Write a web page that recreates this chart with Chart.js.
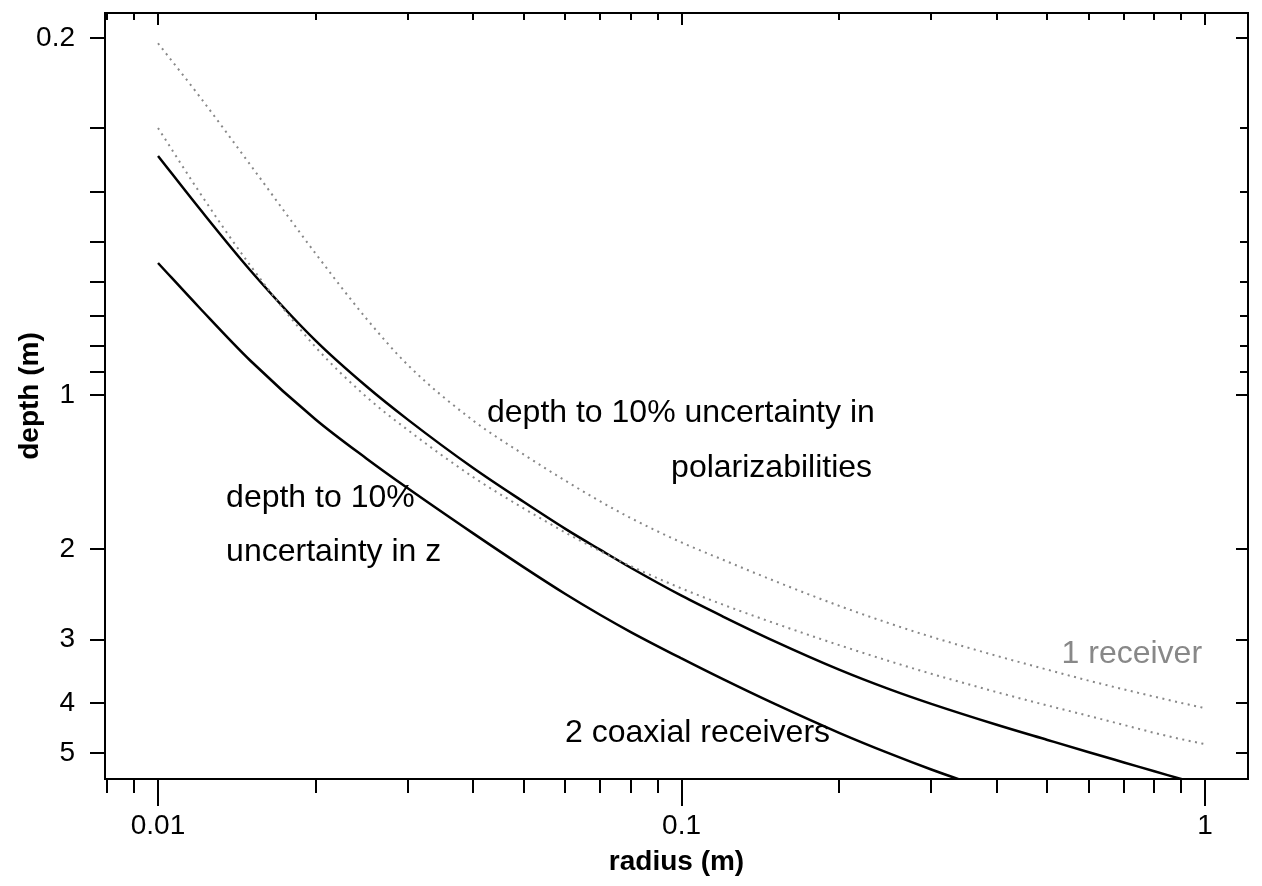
<!DOCTYPE html>
<html>
<head>
<meta charset="utf-8">
<script src="https://cdn.jsdelivr.net/npm/chart.js@4.4.1/dist/chart.umd.min.js"></script>
<style>
  html, body { margin: 0; padding: 0; background: #fff; }
  #wrap { width: 1262px; height: 886px; }
</style>
</head>
<body>
<div id="wrap"><canvas id="depthChart" width="1262" height="886"></canvas></div>
<script>
const radius = [0.01, 0.012, 0.015, 0.02, 0.025, 0.03, 0.04, 0.05, 0.06, 0.07, 0.08, 0.1,
                0.12, 0.15, 0.2, 0.25, 0.3, 0.4, 0.5, 0.6, 0.7, 0.8, 0.9, 1.0];

// depth (m), 1 receiver (dotted grey)
const oneRxUpper = [0.2048, 0.2601, 0.3538, 0.5279, 0.7072, 0.8716, 1.1196, 1.3048, 1.4676, 1.6112, 1.7366, 1.9377,
                    2.0951, 2.3012, 2.5776, 2.7914, 2.9636, 3.2284, 3.4361, 3.6107, 3.7543, 3.8797, 3.9895, 4.0858];
const oneRxLower = [0.2999, 0.4006, 0.5566, 0.8042, 1.0059, 1.1681, 1.4440, 1.6634, 1.8537, 2.0156, 2.1556, 2.3836,
                    2.5637, 2.7839, 3.0761, 3.3086, 3.5000, 3.8009, 4.0365, 4.2317, 4.4066, 4.5659, 4.6971, 4.8040];

// depth (m), 2 coaxial receivers (solid black)
const twoRxUpper = [0.3402, 0.4311, 0.5689, 0.7812, 0.9594, 1.1147, 1.3861, 1.6155, 1.8228, 2.0040, 2.1718, 2.4628,
                    2.7045, 3.0171, 3.4345, 3.7543, 4.0074, 4.4026, 4.7140, 4.9827, 5.2166, 5.4272, 5.6211, 5.7993];
const twoRxLower = [0.5507, 0.6737, 0.8543, 1.1137, 1.3274, 1.5184, 1.8604, 2.1679, 2.4440, 2.6863, 2.9004, 3.2664,
                    3.5864, 4.0002, 4.5659, 5.0151, 5.3859, 5.9702];

// axis ticks
const xTicks = [0.008, 0.009, 0.01, 0.02, 0.03, 0.04, 0.05, 0.06, 0.07, 0.08, 0.09,
                0.1, 0.2, 0.3, 0.4, 0.5, 0.6, 0.7, 0.8, 0.9, 1];
const xLabelTicks = [0.01, 0.1, 1];
const yTicks = [0.2, 0.3, 0.4, 0.5, 0.6, 0.7, 0.8, 0.9, 1, 2, 3, 4, 5];
const yLabelTicks = [0.2, 1, 2, 3, 4, 5];

// text placed on the plot: [text, radius, depth, align, colour]
const notes = [
    ['depth to 10% uncertainty in', 0.0425, 1.126, 'left', '#000'],
    ['polarizabilities', 0.2312, 1.441, 'right', '#000'],
    ['depth to 10%', 0.01349, 1.652, 'left', '#000'],
    ['uncertainty in z', 0.01349, 2.106, 'left', '#000'],
    ['1 receiver', 0.9869, 3.329, 'right', '#888'],
    ['2 coaxial receivers', 0.1922, 4.756, 'right', '#000']
];

const FONT = "'Liberation Sans', Arial, Helvetica, sans-serif";

function to_points(xs, ys) {
    return ys.map((v, i) => ({ x: xs[i], y: v }));
}

function line_set(values, dotted) {
    return {
        data: to_points(radius, values),
        borderColor: dotted ? '#888888' : '#000000',
        borderWidth: dotted ? 2 : 2.5,
        borderDash: dotted ? [2, 4.5] : [],
        pointRadius: 0,
        showLine: true,
        fill: false,
        cubicInterpolationMode: 'monotone'
    };
}

// no extra room for edge labels, the plot box is fixed
function fix_box(s) {
    s.paddingTop = 0;
    s.paddingBottom = 0;
    s.paddingLeft = 0;
    s.paddingRight = 0;
}

// frame with tick marks on all four sides
const frameTicks = {
    id: 'frameTicks',
    afterDraw(chart) {
        const { ctx, chartArea: a, scales: { x, y } } = chart;
        ctx.save();
        ctx.strokeStyle = '#000';
        ctx.lineWidth = 2;
        ctx.lineCap = 'butt';
        const seg = (x1, y1, x2, y2) => {
            ctx.beginPath();
            ctx.moveTo(x1, y1);
            ctx.lineTo(x2, y2);
            ctx.stroke();
        };
        ctx.strokeRect(a.left, a.top, a.right - a.left, a.bottom - a.top);
        x.ticks.forEach(t => {
            const px = Math.round(x.getPixelForValue(t.value));
            const big = xLabelTicks.includes(t.value);
            seg(px, a.bottom, px, a.bottom + (big ? 27 : 14));
            seg(px, a.top, px, a.top + (big ? 12 : 7));
        });
        y.ticks.forEach(t => {
            const py = Math.round(y.getPixelForValue(t.value));
            const big = yLabelTicks.includes(t.value);
            seg(a.left - 15, py, a.left, py);
            seg(a.right - (big ? 12 : 8), py, a.right, py);
        });
        ctx.restore();
    }
};

// text notes, positioned in data units
const noteText = {
    id: 'noteText',
    afterDatasetsDraw(chart) {
        const { ctx, scales: { x, y } } = chart;
        ctx.save();
        ctx.font = '32px ' + FONT;
        ctx.textBaseline = 'alphabetic';
        notes.forEach(([txt, r, d, align, col]) => {
            ctx.fillStyle = col;
            ctx.textAlign = align;
            ctx.fillText(txt, x.getPixelForValue(r), y.getPixelForValue(d));
        });
        ctx.restore();
    }
};

const ctx = document.getElementById('depthChart').getContext('2d');

const config = {
    type: 'scatter',
    data: {
        datasets: [
            line_set(oneRxUpper, true),
            line_set(oneRxLower, true),
            line_set(twoRxUpper, false),
            Object.assign(line_set(twoRxLower, false), {
                data: to_points(radius.slice(0, twoRxLower.length), twoRxLower)
            })
        ]
    },
    options: {
        responsive: false,
        animation: false,
        layout: { padding: { left: 0, right: 14, top: 13, bottom: 0 } },
        plugins: {
            legend: { display: false },
            tooltip: { enabled: false }
        },
        scales: {
            x: {
                type: 'logarithmic',
                min: 0.00792,
                max: 1.208,
                border: { display: false },
                grid: { display: false, drawTicks: false },
                afterBuildTicks: (s) => { s.ticks = xTicks.map(v => ({ value: v })); },
                afterFit: (s) => { s.height = 107; fix_box(s); },
                ticks: {
                    autoSkip: false,
                    maxRotation: 0,
                    padding: 30,
                    color: '#000',
                    font: { family: FONT, size: 28 },
                    callback: (v) => xLabelTicks.includes(v) ? String(v) : ''
                },
                title: {
                    display: true,
                    text: 'radius (m)',
                    color: '#000',
                    font: { family: FONT, size: 28, weight: 'bold' },
                    padding: { top: 0, bottom: 7 }
                }
            },
            y: {
                type: 'logarithmic',
                reverse: true,
                min: 0.17873,
                max: 5.6205,
                border: { display: false },
                grid: { display: false, drawTicks: false },
                afterBuildTicks: (s) => { s.ticks = yTicks.map(v => ({ value: v })); },
                afterFit: (s) => { s.width = 105; fix_box(s); },
                ticks: {
                    autoSkip: false,
                    padding: 30,
                    color: '#000',
                    font: { family: FONT, size: 28 },
                    callback: (v) => yLabelTicks.includes(v) ? String(v) : ''
                },
                title: {
                    display: true,
                    text: 'depth (m)',
                    color: '#000',
                    font: { family: FONT, size: 28, weight: 'bold' },
                    padding: { top: 13, bottom: 0 }
                }
            }
        }
    },
    plugins: [noteText, frameTicks]
};

const depthChart = new Chart(ctx, config);
</script>
</body>
</html>
